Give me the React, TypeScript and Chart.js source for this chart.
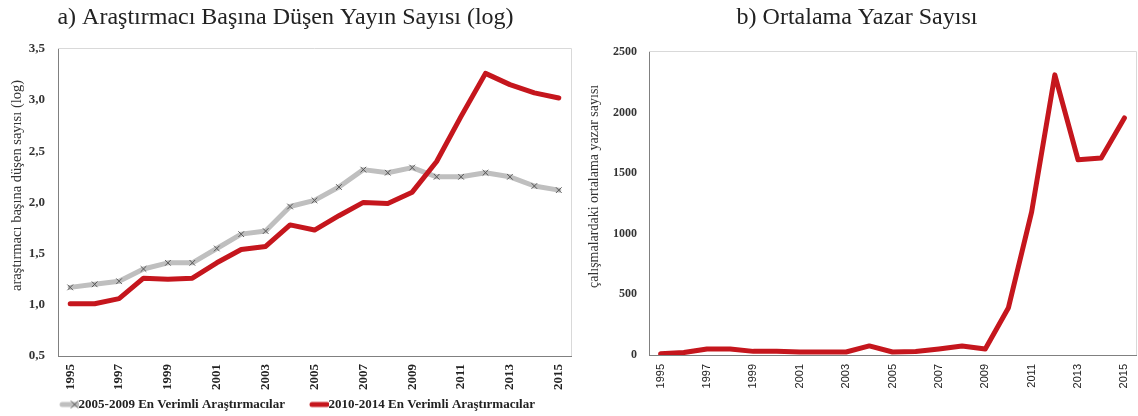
import React, { useEffect, useRef } from 'react';
import { Chart, registerables } from 'chart.js';

Chart.register(...registerables);

const years = ['1995', '1996', '1997', '1998', '1999', '2000', '2001', '2002', '2003', '2004', '2005', '2006', '2007', '2008', '2009', '2010', '2011', '2012', '2013', '2014', '2015'];

const top2005to2009 = [1.17, 1.2, 1.23, 1.35, 1.41, 1.41, 1.55, 1.69, 1.72, 1.96, 2.02, 2.15, 2.32, 2.29, 2.34, 2.25, 2.25, 2.29, 2.25, 2.16, 2.12];
const top2010to2014 = [1.01, 1.01, 1.06, 1.26, 1.25, 1.26, 1.41, 1.54, 1.57, 1.78, 1.73, 1.87, 2.0, 1.99, 2.1, 2.4, 2.84, 3.26, 3.15, 3.07, 3.02];
const avgAuthors = [10, 20, 50, 50, 30, 30, 25, 25, 25, 75, 25, 28, 50, 75, 50, 390, 1180, 2310, 1610, 1625, 1955];

const leftTitle = 'a) Araştırmacı Başına Düşen Yayın Sayısı (log)';
const rightTitle = 'b) Ortalama Yazar Sayısı';
const leftYTitle = 'araştırmacı başına düşen sayısı (log)';
const rightYTitle = 'çalışmalardaki ortalama yazar sayısı';
const seriesLabels = ['2005-2009 En Verimli Araştırmacılar', '2010-2014 En Verimli Araştırmacılar'];

const GRAY = '#bfbfbf';
const RED = '#c5161d';
const SERIF = "'Liberation Serif', 'DejaVu Serif', serif";
const SANS = "'Liberation Sans', Arial, sans-serif";

const framePlugin = {
  id: 'frame',
  beforeDatasetsDraw(chart: any) {
    const { ctx, chartArea } = chart;
    const { left, top, right, bottom } = chartArea;
    ctx.save();
    ctx.strokeStyle = '#d9d9d9';
    ctx.lineWidth = 1;
    ctx.beginPath();
    ctx.moveTo(left, Math.floor(top) + 0.5);
    ctx.lineTo(Math.floor(right) + 0.5, Math.floor(top) + 0.5);
    ctx.lineTo(Math.floor(right) + 0.5, bottom);
    ctx.stroke();
    ctx.restore();
  },
};

function yTitlePlugin(text: string, x: number, size: number) {
  return {
    id: 'yTitle',
    afterDraw(chart: any) {
      const { ctx, chartArea } = chart;
      const cy = (chartArea.top + chartArea.bottom) / 2 - 17;
      ctx.save();
      ctx.translate(x, cy);
      ctx.rotate(-Math.PI / 2);
      ctx.textAlign = 'center';
      ctx.textBaseline = 'middle';
      ctx.font = `normal ${size}px ${SERIF}`;
      ctx.fillStyle = '#333';
      ctx.fillText(text, 0, 0);
      ctx.restore();
    },
  };
}

function makeLegendImage(color: string, withCross: boolean) {
  const c = document.createElement('canvas');
  c.width = 50;
  c.height = 14;
  const g = c.getContext('2d')!;
  g.strokeStyle = color;
  g.lineWidth = 5;
  g.lineCap = 'round';
  g.beginPath();
  g.moveTo(33, 7);
  g.lineTo(48, 7);
  g.stroke();
  if (withCross) {
    g.strokeStyle = '#555';
    g.lineWidth = 1;
    g.beginPath();
    g.moveTo(42, 3.5);
    g.lineTo(49, 10.5);
    g.moveTo(49, 3.5);
    g.lineTo(42, 10.5);
    g.stroke();
  }
  return c;
}

function LeftChart() {
  const ref = useRef<HTMLCanvasElement>(null);
  useEffect(() => {
    const imgs = [makeLegendImage(GRAY, true), makeLegendImage(RED, false)];
    const chart = new Chart(ref.current!, {
      type: 'line',
      data: {
        labels: years,
        datasets: [
          {
            label: seriesLabels[0],
            data: top2005to2009,
            borderColor: GRAY,
            borderWidth: 5,
            pointStyle: 'crossRot',
            pointRadius: 4,
            pointBorderColor: '#555',
            pointBorderWidth: 1,
            pointBackgroundColor: 'transparent',
            tension: 0,
            borderJoinStyle: 'round',
            borderCapStyle: 'round',
            order: 1,
          },
          {
            label: seriesLabels[1],
            data: top2010to2014,
            borderColor: RED,
            borderWidth: 5,
            pointRadius: 0,
            tension: 0,
            borderJoinStyle: 'round',
            borderCapStyle: 'round',
            order: 0,
          },
        ],
      },
      options: {
        responsive: false,
        maintainAspectRatio: false,
        animation: false,
        devicePixelRatio: 1,
        layout: { padding: { left: 0, right: 7, top: 0, bottom: 0 } },
        plugins: {
          tooltip: { enabled: false },
          title: {
            display: true,
            text: leftTitle,
            color: '#222',
            font: { family: SERIF, size: 24, weight: 'normal' },
            padding: { top: 3, bottom: 17 },
          },
          legend: {
            display: true,
            position: 'bottom',
            maxHeight: 19,
            labels: {
              usePointStyle: true,
              pointStyleWidth: 36,
              padding: 1,
              color: '#222',
              font: { family: SERIF, size: 13, weight: 'bold' },
              generateLabels: (ch: any) =>
                ch.data.datasets.map((ds: any, i: number) => ({
                  text: ds.label,
                  pointStyle: imgs[i],
                  fillStyle: 'transparent',
                  strokeStyle: 'transparent',
                  lineWidth: 0,
                  hidden: false,
                  datasetIndex: i,
                  fontColor: '#222',
                })),
            },
          },
        },
        scales: {
          x: {
            offset: true,
            grid: { display: false, drawTicks: false },
            border: { display: true, color: '#808080', width: 1 },
            afterFit: (s: any) => { s.height = 41; s.paddingRight = 0; s.paddingLeft = 0; },
            ticks: {
              autoSkip: false,
              minRotation: 90,
              maxRotation: 90,
              padding: 8,
              color: '#222',
              font: { family: SERIF, size: 13, weight: 'bold' },
              callback: (_v: any, i: number) => (i % 2 === 0 ? years[i] : ''),
            },
          },
          y: {
            min: 0.5,
            max: 3.5,
            grid: { display: false, drawTicks: false },
            border: { display: true, color: '#808080', width: 1 },
            afterFit: (s: any) => { s.width = 58; },
            ticks: {
              stepSize: 0.5,
              padding: 13,
              color: '#333',
              font: { family: SERIF, size: 13, weight: 'bold' },
              callback: (v: any) => Number(v).toFixed(1).replace('.', ','),
            },
          },
        },
      },
      plugins: [framePlugin, yTitlePlugin(leftYTitle, 17, 14.5)],
    } as any);
    return () => chart.destroy();
  }, []);
  return <canvas ref={ref} width={578} height={416} style={{ display: 'block' }} />;
}

function RightChart() {
  const ref = useRef<HTMLCanvasElement>(null);
  useEffect(() => {
    const chart = new Chart(ref.current!, {
      type: 'line',
      data: {
        labels: years,
        datasets: [
          {
            label: rightTitle,
            data: avgAuthors,
            borderColor: RED,
            borderWidth: 5,
            pointRadius: 0,
            tension: 0,
            borderJoinStyle: 'round',
            borderCapStyle: 'round',
          },
        ],
      },
      options: {
        responsive: false,
        maintainAspectRatio: false,
        animation: false,
        devicePixelRatio: 1,
        layout: { padding: { left: 0, right: 2, top: 0, bottom: 0 } },
        plugins: {
          tooltip: { enabled: false },
          legend: { display: false },
          title: {
            display: true,
            text: rightTitle,
            color: '#222',
            font: { family: SERIF, size: 24, weight: 'normal' },
            padding: { top: 3, bottom: 20 },
          },
        },
        scales: {
          x: {
            offset: true,
            grid: { display: false, drawTicks: false },
            border: { display: true, color: '#808080', width: 1 },
            afterFit: (s: any) => { s.height = 61; s.paddingRight = 0; s.paddingLeft = 0; },
            ticks: {
              autoSkip: false,
              minRotation: 90,
              maxRotation: 90,
              padding: 9,
              color: '#222',
              font: { family: SANS, size: 11, weight: 'normal' },
              callback: (_v: any, i: number) => (i % 2 === 0 ? years[i] : ''),
            },
          },
          y: {
            min: 0,
            max: 2500,
            grid: { display: false, drawTicks: false },
            border: { display: true, color: '#808080', width: 1 },
            afterFit: (s: any) => { s.width = 71; },
            ticks: {
              stepSize: 500,
              padding: 12,
              color: '#333',
              font: { family: SERIF, size: 12, weight: 'bold' },
              callback: (v: any) => String(v),
            },
          },
        },
      },
      plugins: [framePlugin, yTitlePlugin(rightYTitle, 16, 14)],
    } as any);
    return () => chart.destroy();
  }, []);
  return <canvas ref={ref} width={560} height={416} style={{ display: 'block' }} />;
}

export default function App() {
  return (
    <div style={{ position: 'absolute', left: 0, top: 0, width: 1138, height: 416, background: '#fff', display: 'flex' }}>
      <LeftChart />
      <RightChart />
    </div>
  );
}
